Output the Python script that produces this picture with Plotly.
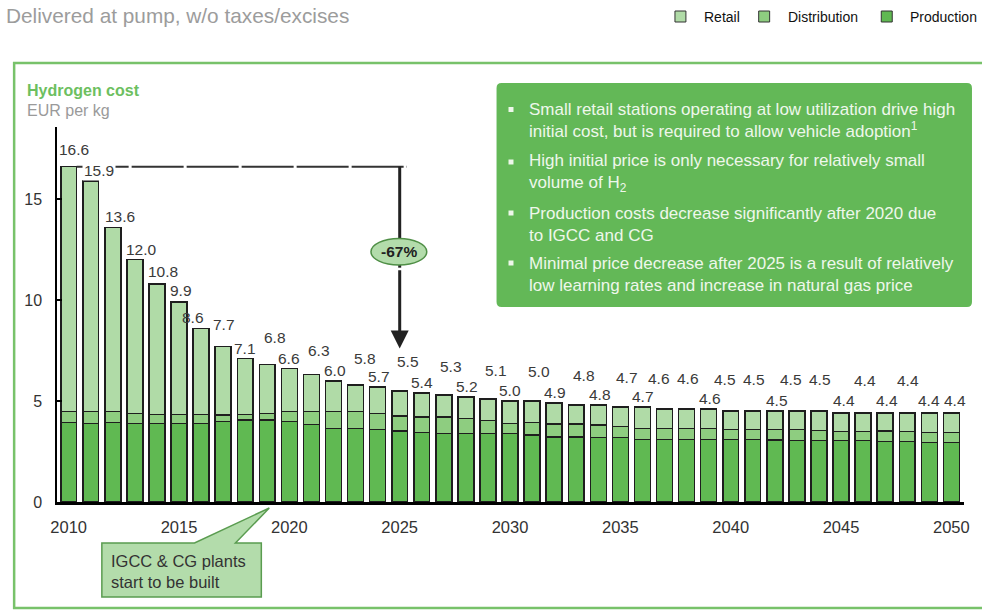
import plotly.graph_objects as go

# ---------------- data ----------------
years = list(range(2010, 2051))
production = [3.93, 3.89, 3.93, 3.89, 3.89, 3.89, 3.89, 3.98, 4.06, 4.06,
              3.98, 3.84, 3.65, 3.65, 3.60, 3.51, 3.43, 3.40, 3.40, 3.40,
              3.40, 3.32, 3.23, 3.23, 3.20, 3.20, 3.10, 3.10, 3.10, 3.10,
              3.10, 3.10, 3.07, 3.04, 3.04, 3.04, 3.04, 2.99, 2.99, 2.95, 2.95]
distribution = [0.54, 0.58, 0.54, 0.50, 0.45, 0.45, 0.45, 0.33, 0.28, 0.33,
                0.49, 0.63, 0.82, 0.82, 0.79, 0.76, 0.79, 0.82, 0.74, 0.63,
                0.49, 0.61, 0.63, 0.63, 0.61, 0.53, 0.55, 0.55, 0.55, 0.55,
                0.50, 0.50, 0.53, 0.56, 0.49, 0.44, 0.44, 0.52, 0.49, 0.50, 0.50]
retail = [12.13, 11.43, 9.13, 7.61, 6.46, 5.56, 4.26, 3.39, 2.76, 2.41,
          2.13, 1.83, 1.53, 1.33, 1.31, 1.23, 1.18, 1.08, 1.06, 1.07,
          1.11, 1.07, 1.04, 0.94, 0.99, 0.97, 1.05, 0.95, 0.95, 0.95,
          0.90, 0.90, 0.90, 0.90, 0.97, 0.92, 0.92, 0.89, 0.92, 0.95, 0.95]
total_labels = [16.6, 15.9, 13.6, 12.0, 10.8, 9.9, 8.6, 7.7, 7.1, 6.8,
                6.6, 6.3, 6.0, 5.8, 5.7, 5.5, 5.4, 5.3, 5.2, 5.1,
                5.0, 5.0, 4.9, 4.8, 4.8, 4.7, 4.7, 4.6, 4.6, 4.6,
                4.5, 4.5, 4.5, 4.5, 4.5, 4.4, 4.4, 4.4, 4.4, 4.4, 4.4]
x_tick_vals = [2010, 2015, 2020, 2025, 2030, 2035, 2040, 2045, 2050]
y_tick_vals = [0, 5, 10, 15]
change_label = "-67%"
change_from_year, change_to_year = 2010, 2025

# label staggering (pixel offsets, style only)
label_yshift = [7, 0, 0, 0, 2, 1, 0, 11, 0, 17,
                0, 14, 0, 16, 0, 19, 0, 18, 0, 18,
                0, 19, 0, 19, 0, 19, 0, 20, 20, 0,
                21, 21, 0, 21, 21, 2, 22, 2, 22, 2, 2]
label_xshift = [5, 8, 7, 7, 6, 2, -8, 1, 0, 8,
                0, 8, 1, 9, 1, 8, 0, 7, 1, 8,
                0, 7, 1, 8, 2, 7, 1, -6, 1, 1,
                -6, 1, 2, -6, 1, 3, 2, 2, 1, 0, 4]

# ---------------- styling ----------------
FONT = "Liberation Sans, Arial, sans-serif"
retail_col = "#b0dba7"
dist_col = "#8ecd80"
prod_col = "#60b952"
outline = "#1e1e1e"

L, R, T, B = 57, 967, 127, 502
W, H = R - L, B - T
PX_PER_UNIT = 20.2
x_range = [2009.47, 2009.47 + W / 22.14]
y_range = [0, H / PX_PER_UNIT]


def px(x):
    return (x - L) / W


def py(y):
    return (B - y) / H


fig = go.Figure()
for name, vals, col in [("Production", production, prod_col),
                        ("Distribution", distribution, dist_col),
                        ("Retail", retail, retail_col)]:
    fig.add_trace(go.Bar(x=years, y=vals, name=name, width=0.72,
                         marker=dict(color=col, line=dict(color=outline, width=1.5)),
                         showlegend=False, hoverinfo="x+y+name"))

annotations = []
for yr, tot, ys, xs in zip(years, total_labels, label_yshift, label_xshift):
    a = dict(x=yr, y=tot, xref="x", yref="y", text=f"{tot:.1f}", showarrow=False,
             xanchor="center", yanchor="bottom", yshift=ys, xshift=xs,
             font=dict(family=FONT, size=15.5, color="#3a3a3a"))
    if yr == 2011:
        a["bgcolor"] = "white"
    annotations.append(a)

shapes = []
# outer green frame
shapes.append(dict(type="rect", xref="paper", yref="paper",
                   x0=px(14), x1=px(990), y0=py(63), y1=py(608),
                   line=dict(color="#78c26a", width=2.5), fillcolor="rgba(0,0,0,0)", layer="below"))

# dashed reference line at the 2010 level
top_val = total_labels[years.index(change_from_year)]
shapes.append(dict(type="line", xref="x", yref="y", x0=change_from_year + 0.36, x1=change_to_year + 0.33,
                   y0=top_val, y1=top_val, line=dict(color="#333333", width=2, dash="52px,3px")))
# vertical part of arrow (behind ellipse)
arrow_mid = 11.6
shapes.append(dict(type="line", xref="x", yref="y", x0=change_to_year, x1=change_to_year,
                   y0=top_val, y1=arrow_mid, line=dict(color="#222222", width=3)))
# ellipse with -67%
shapes.append(dict(type="circle", xref="paper", yref="paper",
                   x0=px(372), x1=px(428), y0=py(265), y1=py(238.5),
                   fillcolor="#b3dcab", line=dict(color="#4f8f46", width=1.5)))
annotations.append(dict(x=px(400), y=py(251.7), xref="paper", yref="paper", text="<b>" + change_label + "</b>",
                        showarrow=False, xanchor="center", yanchor="middle",
                        font=dict(family=FONT, size=15.5, color="#222222")))
annotations.append(dict(x=change_to_year, y=7.6, xref="x", yref="y", ax=change_to_year, ay=arrow_mid,
                        axref="x", ayref="y", text=" ", showarrow=True, arrowhead=2, arrowsize=1.2,
                        arrowwidth=3, arrowcolor="#222222", font=dict(size=2)))

# green note box (rounded)
x0b, x1b, y0b, y1b, r = 498, 975, 83, 307, 5
box_path = (f"M {px(x0b+r)},{py(y0b)} L {px(x1b-r)},{py(y0b)} Q {px(x1b)},{py(y0b)} {px(x1b)},{py(y0b+r)} "
            f"L {px(x1b)},{py(y1b-r)} Q {px(x1b)},{py(y1b)} {px(x1b-r)},{py(y1b)} "
            f"L {px(x0b+r)},{py(y1b)} Q {px(x0b)},{py(y1b)} {px(x0b)},{py(y1b-r)} "
            f"L {px(x0b)},{py(y0b+r)} Q {px(x0b)},{py(y0b)} {px(x0b+r)},{py(y0b)} Z")
shapes.append(dict(type="path", xref="paper", yref="paper", path=box_path,
                   fillcolor="#63b857", line=dict(color="#63b857", width=0)))

bullets = [
    "Small retail stations operating at low utilization drive high<br>initial cost, but is required to allow vehicle adoption<sup>1</sup>",
    "High initial price is only necessary for relatively small<br>volume of H<sub>2</sub>",
    "Production costs decrease significantly after 2020 due<br>to IGCC and CG",
    "Minimal price decrease after 2025 is a result of relatively<br>low learning rates and increase in natural gas price",
]
bullet_centers = [120.5, 173, 224, 274]
for txt, cy in zip(bullets, bullet_centers):
    annotations.append(dict(x=px(529), y=py(cy), xref="paper", yref="paper", text=txt,
                            showarrow=False, xanchor="left", yanchor="middle", align="left",
                            font=dict(family=FONT, size=17, color="#eef7eb")))
    shapes.append(dict(type="rect", xref="paper", yref="paper",
                       x0=px(510), x1=px(515), y0=py(cy - 8.5), y1=py(cy - 13.5),
                       fillcolor="#eef7eb", line=dict(width=0)))

# callout box with pointer
cb = [(102, 597), (102, 543), (195, 543), (270, 508), (236, 543), (262, 543), (262, 597)]
cpath = "M " + " L ".join(f"{px(a)},{py(b)}" for a, b in cb) + " Z"
shapes.append(dict(type="path", xref="paper", yref="paper", path=cpath,
                   fillcolor="#b3dcab", line=dict(color="#5a9c50", width=1.5)))
annotations.append(dict(x=px(109), y=py(571), xref="paper", yref="paper",
                        text="IGCC & CG plants<br>start to be built", showarrow=False,
                        xanchor="left", yanchor="middle", align="left",
                        font=dict(family=FONT, size=16.5, color="#333333")))

# titles
annotations.append(dict(x=px(25), y=py(91), xref="paper", yref="paper", text="<b>Hydrogen cost</b>",
                        showarrow=False, xanchor="left", yanchor="middle",
                        font=dict(family=FONT, size=16, color="#6dbf60")))
annotations.append(dict(x=px(25), y=py(110), xref="paper", yref="paper", text="EUR per kg",
                        showarrow=False, xanchor="left", yanchor="middle",
                        font=dict(family=FONT, size=16, color="#9a9a9a")))
annotations.append(dict(x=px(4), y=py(15), xref="paper", yref="paper", text="Delivered at pump, w/o taxes/excises",
                        showarrow=False, xanchor="left", yanchor="middle",
                        font=dict(family=FONT, size=20.8, color="#9c9c9c")))

# manual legend
for name, col, sx in [("Retail", retail_col, 677), ("Distribution", dist_col, 761), ("Production", prod_col, 884)]:
    shapes.append(dict(type="rect", xref="paper", yref="paper", x0=px(sx), x1=px(sx + 11),
                       y0=py(22), y1=py(11), fillcolor=col, line=dict(color="#333333", width=1)))
    annotations.append(dict(x=px(sx + 27), y=py(17), xref="paper", yref="paper", text=name,
                            showarrow=False, xanchor="left", yanchor="middle",
                            font=dict(family=FONT, size=14, color="#111111")))

fig.update_layout(
    barmode="stack",
    width=982, height=612,
    margin=dict(l=L, r=982 - R, t=T, b=612 - B, pad=0),
    paper_bgcolor="white", plot_bgcolor="white",
    font=dict(family=FONT, color="#333333"),
    shapes=shapes, annotations=annotations,
    showlegend=False,
    xaxis=dict(range=x_range, tickmode="array", tickvals=x_tick_vals,
               ticktext=[str(v) for v in x_tick_vals], showgrid=False, zeroline=False,
               showline=True, linecolor="black", linewidth=3, ticks="",
               ticklabelstandoff=8, tickfont=dict(family=FONT, size=16.5, color="#333333")),
    yaxis=dict(range=y_range, tickmode="array", tickvals=y_tick_vals, showgrid=False,
               zeroline=False, showline=True, linecolor="black", linewidth=1.5,
               ticks="inside", ticklen=5, tickwidth=1.5, tickcolor="black",
               ticklabelstandoff=10, tickfont=dict(family=FONT, size=16, color="#333333")),
)

fig.write_html("out.html")
